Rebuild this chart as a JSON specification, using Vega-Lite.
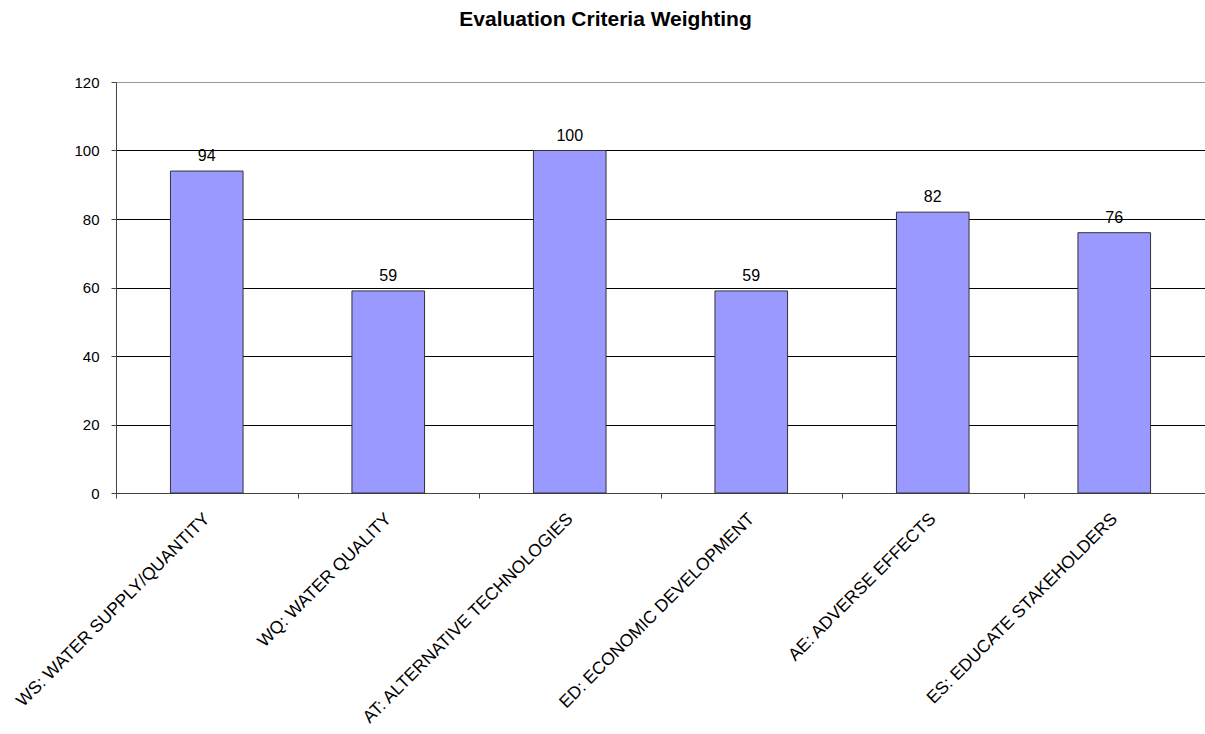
{
  "$schema": "https://vega.github.io/schema/vega-lite/v6.json",
  "autosize": "none",
  "padding": {"left": 116, "top": 82, "right": 0, "bottom": 241},
  "width": 1089,
  "height": 411,
  "background": "white",
  "title": {
    "text": "Evaluation Criteria Weighting",
    "font": "Liberation Sans",
    "fontSize": 21,
    "fontWeight": "bold",
    "color": "black",
    "anchor": "middle",
    "dx": -55,
    "offset": 45
  },
  "data": {
    "values": [
      {"criterion": "WS: WATER SUPPLY/QUANTITY", "weight": 94},
      {"criterion": "WQ: WATER QUALITY", "weight": 59},
      {"criterion": "AT: ALTERNATIVE TECHNOLOGIES", "weight": 100},
      {"criterion": "ED: ECONOMIC DEVELOPMENT", "weight": 59},
      {"criterion": "AE: ADVERSE EFFECTS", "weight": 82},
      {"criterion": "ES: EDUCATE STAKEHOLDERS", "weight": 76}
    ]
  },
  "config": {
    "view": {"stroke": null},
    "font": "Liberation Sans"
  },
  "encoding": {
    "x": {
      "field": "criterion",
      "type": "nominal",
      "sort": null,
      "scale": {"paddingInner": 0, "paddingOuter": 0},
      "axis": {
        "title": null,
        "labelAngle": -45,
        "labelAlign": "right",
        "labelBaseline": "middle",
        "labelFont": "Liberation Sans",
        "labelFontSize": 17.5,
        "labelColor": "black",
        "labelPadding": 18,
        "labelLimit": 400,
        "domainColor": "#444444",
        "tickColor": "#444444",
        "tickBand": "extent",
        "ticks": true,
        "tickSize": 5,
        "grid": false
      }
    },
    "y": {
      "field": "weight",
      "type": "quantitative",
      "scale": {"domain": [0, 120]},
      "axis": {
        "title": null,
        "values": [0, 20, 40, 60, 80, 100, 120],
        "labelFont": "Liberation Sans",
        "labelFontSize": 15,
        "labelColor": "black",
        "labelPadding": 12,
        "domainColor": "#444444",
        "tickColor": "#444444",
        "tickSize": 5,
        "gridColor": {"condition": {"test": "datum.value === 120", "value": "#999999"}, "value": "black"},
        "gridOpacity": 1,
        "gridWidth": 1
      }
    }
  },
  "layer": [
    {
      "mark": {"type": "bar", "color": "#9999FF", "stroke": "#333333", "strokeWidth": 1, "width": {"band": 0.4}}
    },
    {
      "mark": {"type": "text", "baseline": "alphabetic", "dy": -10, "fontSize": 16, "color": "black", "font": "Liberation Sans"},
      "encoding": {"text": {"field": "weight", "type": "quantitative"}}
    }
  ]
}
